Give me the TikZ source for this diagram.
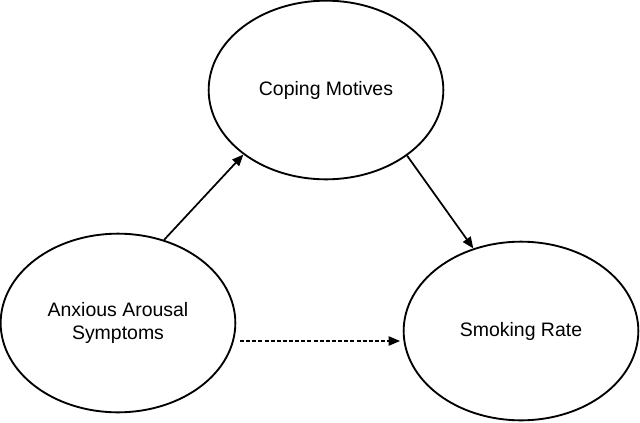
\documentclass[tikz,border=0pt]{standalone}
\usepackage{fontspec}
\setmainfont{Liberation Sans}
\usetikzlibrary{shapes.geometric,arrows.meta,calc}
\begin{document}
\begin{tikzpicture}[x=0.75pt,y=-0.75pt,
  var/.style={ellipse,draw,line width=1.4pt,minimum width=176pt,minimum height=134pt,inner sep=0pt,align=center,font=\fontsize{14.6pt}{17.5pt}\selectfont},
  conn/.style={line width=1.3pt,-{Triangle[length=8.5pt,width=7pt]}},
  dconn/.style={line width=1pt,dash pattern=on 3pt off 1.6pt,-{Triangle[length=8.5pt,width=7pt]}}]
\useasboundingbox[fill=white] (0,0) rectangle (640,422);
\node[var] (cop) at (326,90) {Coping Motives};
\node[var] (anx) at (118,323) {Anxious Arousal\\Symptoms};
\node[var] (smk) at (521,331) {Smoking Rate};
\draw[conn] (anx.61.5) -- (cop.218);
\draw[conn] (cop.-39.5) -- (smk.120.6);
\coordinate (ds) at ($(anx.center)+(122,18)$);
\coordinate (de) at ($(smk.center)+(-121,10)$);
\draw[dconn] (ds) -- (de);
\end{tikzpicture}
\end{document}
